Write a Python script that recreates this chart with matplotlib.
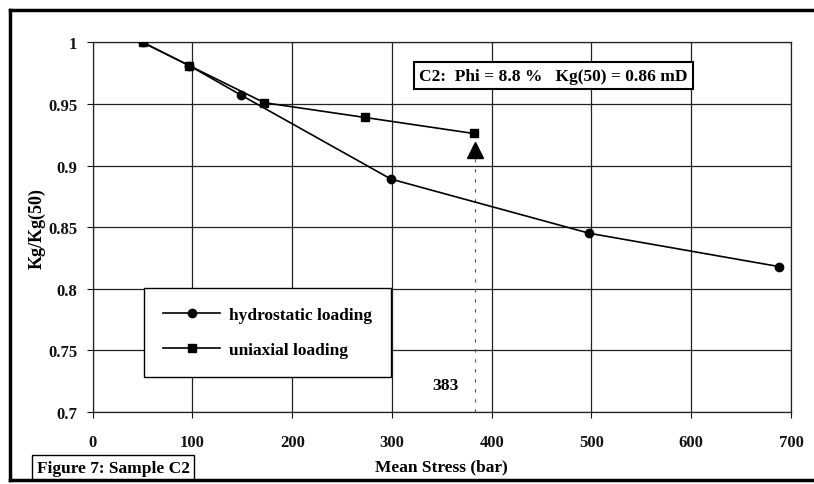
import matplotlib
matplotlib.use('Agg')
import matplotlib.pyplot as plt
from matplotlib.lines import Line2D
from matplotlib.patches import Rectangle

# hydrostatic loading (Mean Stress in bar, Kg/Kg(50))
hydro_stress = [50, 97, 149, 299, 498, 688]
hydro_kg = [1.0, 0.981, 0.957, 0.889, 0.845, 0.818]

# uniaxial loading
uni_stress = [50, 97, 172, 273, 382]
uni_kg = [1.0, 0.981, 0.951, 0.939, 0.926]

# marker for the 383 bar value
mark_stress = 383
mark_kg = 0.913

x_ticks = [0, 100, 200, 300, 400, 500, 600, 700]
y_ticks = [0.7, 0.75, 0.8, 0.85, 0.9, 0.95, 1.0]
y_tick_labels = ['0.7', '0.75', '0.8', '0.85', '0.9', '0.95', '1']

FS = 12.5

plt.rcParams['font.family'] = ['Liberation Serif', 'DejaVu Serif']
plt.rcParams['font.weight'] = 'bold'

fig = plt.figure(figsize=(8.14, 4.85), dpi=100)
ax = fig.add_axes([0.1139, 0.1485, 0.8578, 0.7622])

ax.set_xlim(0, 700)
ax.set_ylim(0.7, 1.0)
ax.set_xticks(x_ticks)
ax.set_yticks(y_ticks)
ax.set_yticklabels(y_tick_labels)
ax.grid(True, color='#222222', linewidth=0.9)
ax.set_axisbelow(True)
for s in ax.spines.values():
    s.set_color('#222222')
    s.set_linewidth(0.9)
ax.tick_params(axis='x', length=4, pad=12, labelsize=12, colors='#111111')
ax.tick_params(axis='y', length=4, pad=7, labelsize=12, colors='#111111')
for lbl in ax.get_xticklabels() + ax.get_yticklabels():
    lbl.set_fontweight('bold')

# dashed pointer line from the triangle down to the axis
ax.plot([mark_stress, mark_stress], [0.7, mark_kg - 0.006], color='#555555',
        linestyle=(0, (3, 6)), linewidth=0.8, zorder=2)

ax.plot(hydro_stress, hydro_kg, color='black', linewidth=1.2, marker='o',
        markersize=6, label='hydrostatic loading', zorder=3)
ax.plot(uni_stress, uni_kg, color='black', linewidth=1.2, marker='s',
        markersize=6, label='uniaxial loading', zorder=3)
ax.plot([mark_stress], [mark_kg], marker='^', color='black', markersize=11,
        linestyle='none', zorder=4)

ax.text(354, 0.722, '383', ha='center', va='center', fontsize=FS,
        fontweight='bold')

ax.text(462, 0.973, 'C2:  Phi = 8.8 %   Kg(50) = 0.86 mD', ha='center',
        va='center', fontsize=FS, fontweight='bold',
        bbox=dict(boxstyle='square,pad=0.3', facecolor='white',
                  edgecolor='black', linewidth=1.5), zorder=5)

leg = ax.legend(loc='upper left', bbox_to_anchor=(0.0735, 0.335),
                borderaxespad=0, prop={'weight': 'bold', 'size': FS},
                handlelength=3.3, fancybox=False, framealpha=1,
                edgecolor='black', borderpad=1.1, labelspacing=1.05,
                handletextpad=0.5)
leg.get_frame().set_linewidth(1.0)

ax.set_xlabel('Mean Stress (bar)', fontsize=FS, fontweight='bold', labelpad=6)
ax.set_ylabel('Kg/Kg(50)', fontsize=13, fontweight='bold', labelpad=2)

# outer frame of the figure (left, top, bottom only)
fig.add_artist(Line2D([10 / 814, 10 / 814], [1 - 11 / 485, 1 - 481 / 485],
                      transform=fig.transFigure, color='black', linewidth=2.5))
fig.add_artist(Line2D([10 / 814, 1.0], [1 - 11 / 485, 1 - 11 / 485],
                      transform=fig.transFigure, color='black', linewidth=2.5))
fig.add_artist(Line2D([10 / 814, 1.0], [1 - 481 / 485, 1 - 481 / 485],
                      transform=fig.transFigure, color='black', linewidth=2.5))

# caption box in the bottom left corner
fig.add_artist(Rectangle((32 / 814, 1 - 481 / 485), (194 - 32) / 814, 25 / 485,
                         transform=fig.transFigure, facecolor='white',
                         edgecolor='black', linewidth=1.0))
fig.text(113 / 814, 1 - 469 / 485, 'Figure 7: Sample C2', ha='center',
         va='center', fontsize=FS, fontweight='bold')

fig.savefig('out.png', dpi=100)
